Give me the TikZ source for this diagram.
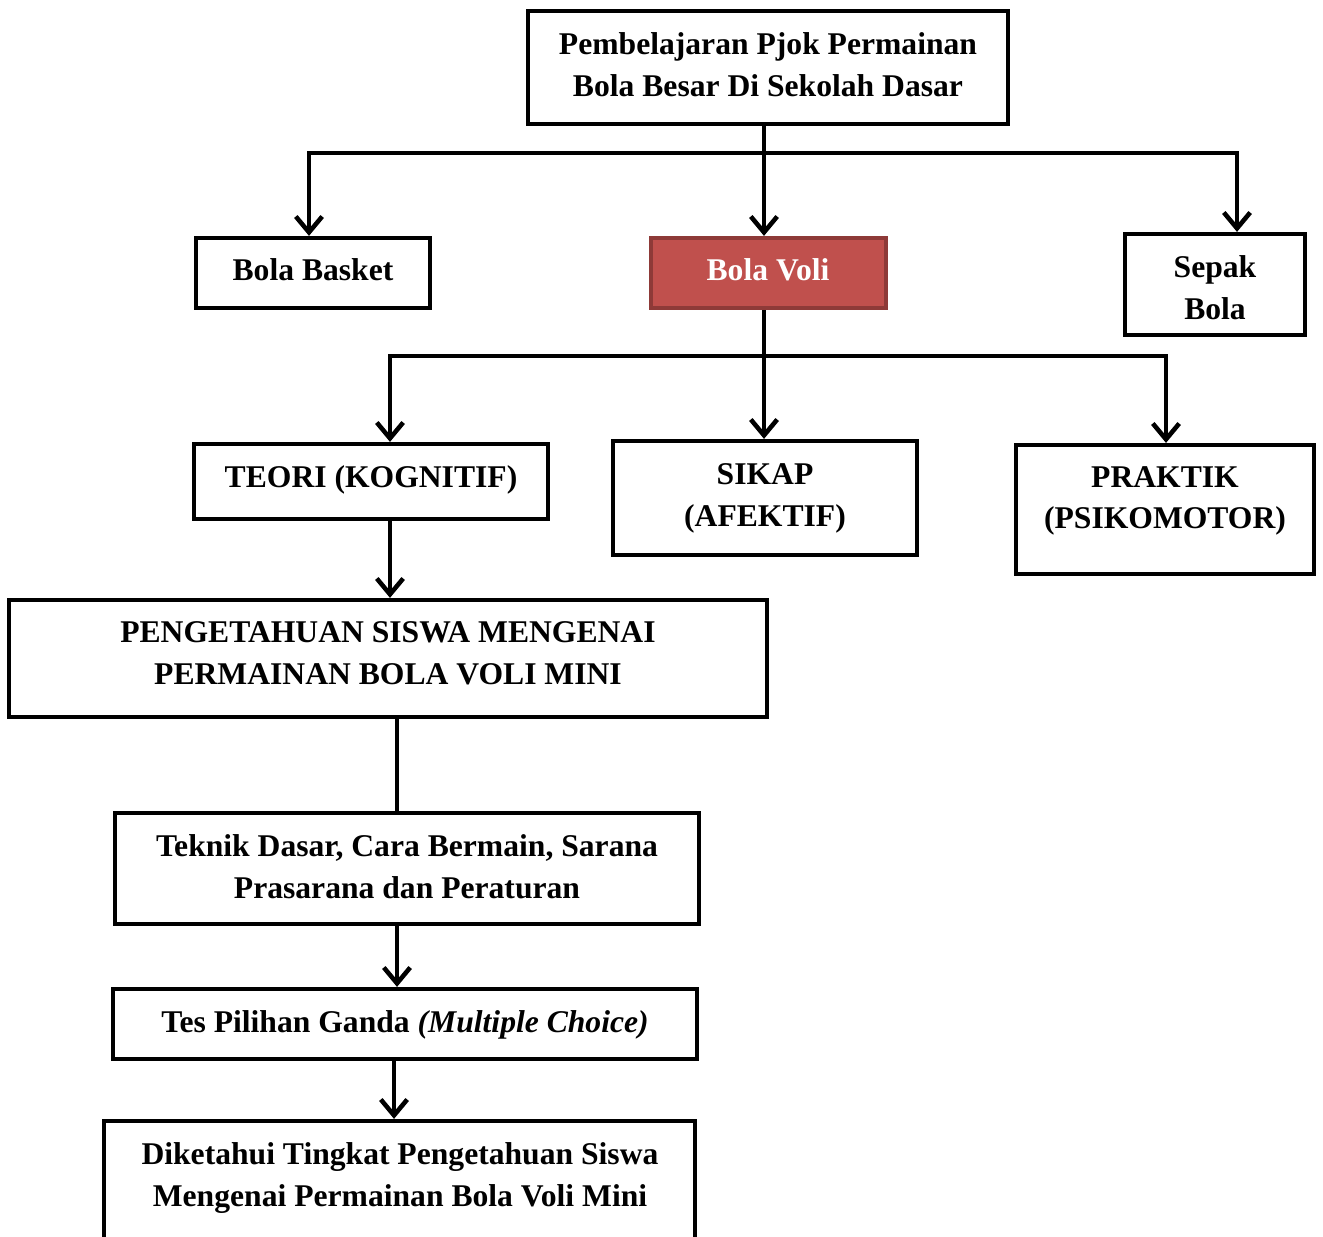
\documentclass[tikz,border=0pt]{standalone}
\usepackage{fontspec}
\setmainfont{Liberation Serif}
\usetikzlibrary{arrows.meta,fit}
\definecolor{voliRed}{HTML}{C0504D}
\definecolor{voliEdge}{HTML}{8E3A38}
\tikzset{
  box/.style={draw=black, line width=2.4pt, inner sep=0pt},
  boxred/.style={box, draw=voliEdge, fill=voliRed},
  txt/.style={align=center, inner sep=0pt, font=\bfseries\fontsize{18}{23.8}\selectfont},
  link/.style={line width=2.6pt},
  arr/.style={link, -{Straight Barb[length=9pt,width=15pt]}},
}
\begin{document}
\begin{tikzpicture}[x=0.02cm, y=-0.02cm]
\useasboundingbox (0,0) rectangle (1323,1237);
\node[box, fit={(528,11) (1008,124)}] (top) {};
\node[txt] (top-t) at (768,65) {Pembelajaran Pjok Permainan\\Bola Besar Di Sekolah Dasar};
\node[box, fit={(196,238) (430,308)}] (basket) {};
\node[txt] (basket-t) at (313,270) {Bola Basket};
\node[boxred, fit={(651,238) (886,308)}] (voli) {};
\node[txt, text=white] (voli-t) at (768,270) {Bola Voli};
\node[box, fit={(1125,234) (1305,335)}] (sepak) {};
\node[txt] (sepak-t) at (1215,288) {Sepak\\Bola};
\node[box, fit={(194,444) (548,519)}] (teori) {};
\node[txt] (teori-t) at (371,480) {TEORI (KOGNITIF)};
\node[box, fit={(613,441) (917,555)}] (sikap) {};
\node[txt] (sikap-t) at (765,498) {SIKAP\\(AFEKTIF)};
\node[box, fit={(1016,445) (1314,574)}] (praktik) {};
\node[txt] (praktik-t) at (1165,501) {PRAKTIK\\(PSIKOMOTOR)};
\node[box, fit={(9,600) (767,717)}] (peng) {};
\node[txt] (peng-t) at (388,653) {PENGETAHUAN SISWA MENGENAI\\PERMAINAN BOLA VOLI MINI};
\node[box, fit={(115,813) (699,924)}] (teknik) {};
\node[txt] (teknik-t) at (407,867) {Teknik Dasar, Cara Bermain, Sarana\\Prasarana dan Peraturan};
\node[box, fit={(113,989) (697,1059)}] (tes) {};
\node[txt] (tes-t) at (405,1025) {Tes Pilihan Ganda \textit{(Multiple Choice)}};
\node[box, fit={(104,1121) (695,1290)}] (diket) {};
\node[txt] (diket-t) at (400,1178) {Diketahui Tingkat Pengetahuan Siswa\\Mengenai Permainan Bola Voli Mini};
% connectors
\coordinate (bus1) at (764,153);
\coordinate (bus1l) at (309,153);
\coordinate (bus1r) at (1237,153);
\draw[link] (bus1 |- top.south) -- (bus1);
\draw[arr] (bus1) -| (bus1l |- basket.north);
\draw[arr] (bus1) -| (bus1r |- sepak.north);
\draw[arr] (bus1) -- (bus1 |- voli.north);
\coordinate (bus2) at (764,356);
\coordinate (bus2l) at (390,356);
\coordinate (bus2r) at (1166,356);
\draw[link] (bus2 |- voli.south) -- (bus2);
\draw[arr] (bus2) -| (bus2l |- teori.north);
\draw[arr] (bus2) -| (bus2r |- praktik.north);
\draw[arr] (bus2) -- (bus2 |- sikap.north);
\draw[arr] (bus2l |- teori.south) -- (bus2l |- peng.north);
\coordinate (spine) at (397,760);
\coordinate (spine2) at (394,1090);
\draw[link] (spine |- peng.south) -- (spine |- teknik.north);
\draw[arr] (spine |- teknik.south) -- (spine |- tes.north);
\draw[arr] (spine2 |- tes.south) -- (spine2 |- diket.north);
\end{tikzpicture}
\end{document}
